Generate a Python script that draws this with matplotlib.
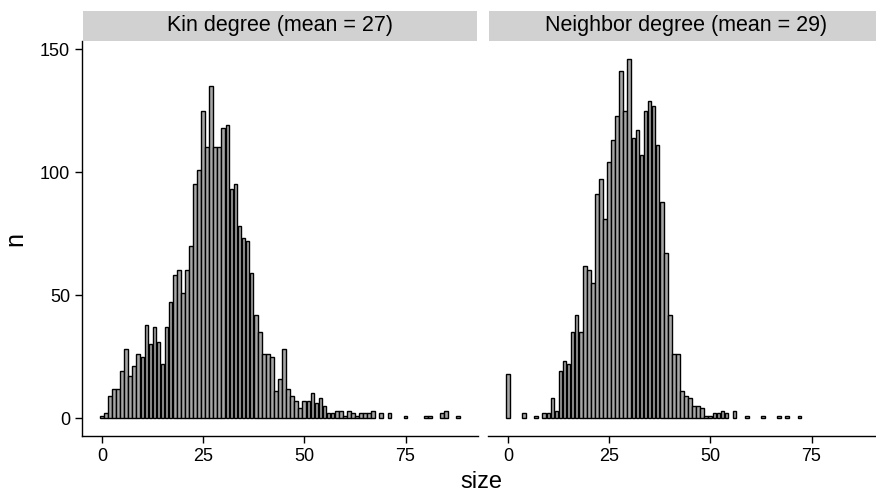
import matplotlib
matplotlib.use("Agg")
import matplotlib.pyplot as plt

plt.rcParams["font.family"] = ["Liberation Sans", "DejaVu Sans"]

# degree counts per facet (size -> n), sizes with zero count are left out
kin_size = list(range(0, 68)) + [69, 71, 75, 80, 81, 84, 85, 88]
kin_n = [1, 2, 9, 12, 12, 19, 28, 17, 21, 26,
         25, 38, 30, 37, 31, 22, 37, 47, 58, 60,
         51, 60, 70, 95, 101, 125, 110, 135, 110, 110,
         118, 119, 93, 95, 78, 73, 72, 59, 42, 35,
         26, 26, 25, 11, 16, 28, 12, 9, 7, 4,
         7, 7, 10, 6, 8, 5, 2, 2, 3, 3,
         1, 3, 2, 1, 2, 2, 2, 3,
         2, 2, 1, 1, 1, 2, 3, 1]

nb_size = [0, 4, 7, 9, 10, 11, 12] + list(range(13, 55)) + [56, 59, 63, 67, 69, 72]
nb_n = [18, 2, 1, 2, 2, 8, 3,
        19, 23, 22, 35, 42, 35, 62, 60, 55, 91,
        97, 81, 104, 113, 123, 141, 125, 146, 114, 117,
        107, 125, 129, 127, 111, 88, 67, 42, 26, 26,
        11, 9, 8, 5, 5, 4, 1, 1, 2, 2,
        3, 2,
        3, 1, 1, 1, 1, 1]

titles = ["Kin degree (mean = 27)", "Neighbor degree (mean = 29)"]
panels = [(kin_size, kin_n), (nb_size, nb_n)]

W, H = 876, 494
fig = plt.figure(figsize=(W / 100, H / 100), dpi=100)

lefts = [82, 488]
pw = 396
top, bottom = 41, 436

for i, ((sz, n), title) in enumerate(zip(panels, titles)):
    ax = fig.add_axes([lefts[i] / W, (H - bottom) / H, pw / W, (bottom - top) / H])
    ax.bar(sz, n, width=0.9, color="#a6a6a6", edgecolor="black", linewidth=1.0)
    ax.set_xlim(-4.9, 92.9)
    ax.set_ylim(-7.3, 153.3)
    ax.set_xticks([0, 25, 50, 75])
    ax.set_yticks([0, 50, 100, 150])
    for s in ["top", "right"]:
        ax.spines[s].set_visible(False)
    ax.spines["bottom"].set_linewidth(1.0)
    ax.spines["left"].set_linewidth(1.0)
    ax.tick_params(axis="both", labelsize=13, length=5, width=1.0, color="black")
    if i == 1:
        ax.spines["left"].set_visible(False)
        ax.tick_params(axis="y", left=False, labelleft=False)
    else:
        ax.set_ylabel("n", fontsize=18, labelpad=9)

    # facet strip
    sx = fig.add_axes([(lefts[i] + 1) / W, (H - top) / H, (pw - 2) / W, 30 / H])
    sx.set_facecolor("#d1d1d1")
    sx.set_xticks([])
    sx.set_yticks([])
    for s in sx.spines.values():
        s.set_visible(False)
    sx.text(0.5, 0.5, title, ha="center", va="center", fontsize=15.5,
            transform=sx.transAxes)

fig.text(481 / W, 1 - 482 / H, "size", ha="center", va="center", fontsize=17)

fig.savefig("out.png", dpi=100)
